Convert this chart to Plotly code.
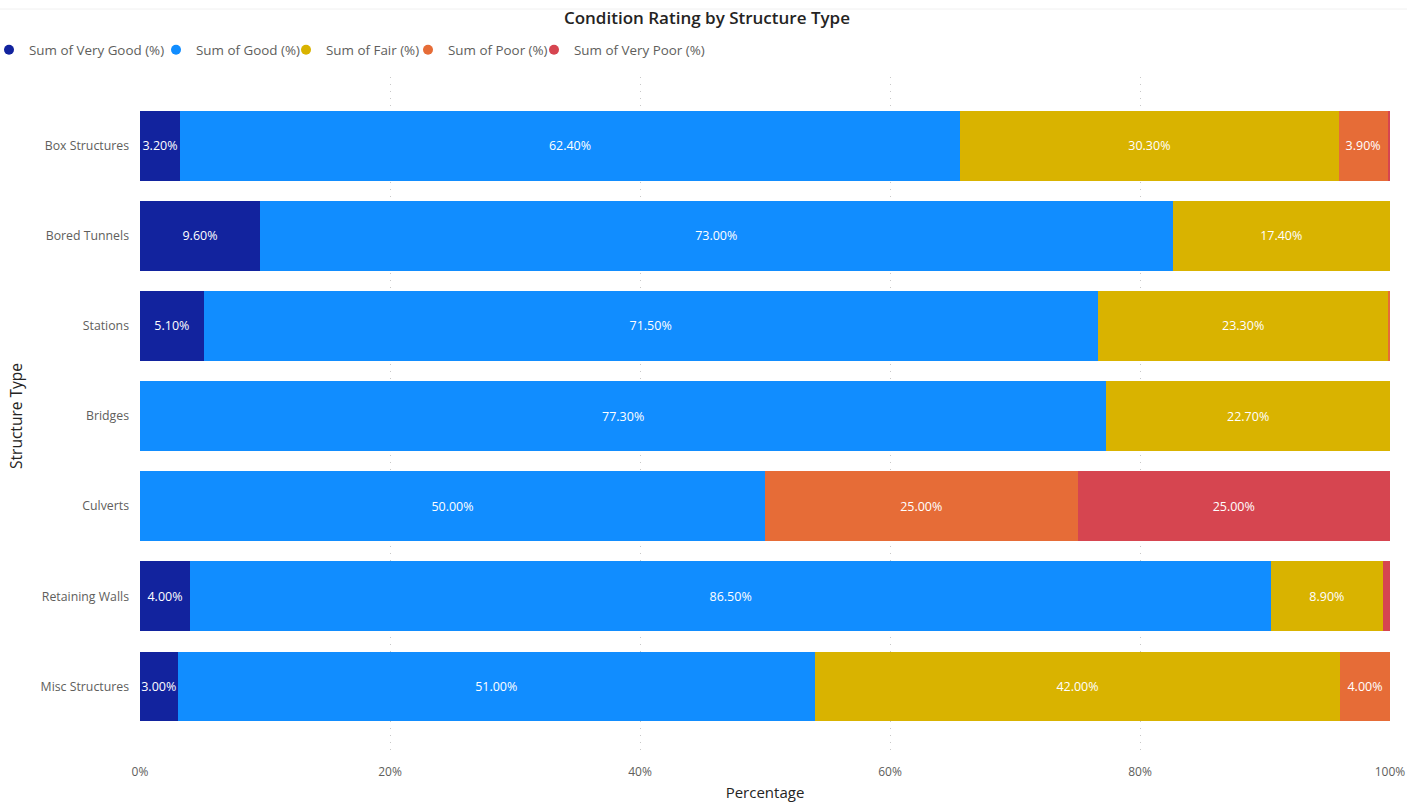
import plotly.graph_objects as go

categories = ["Box Structures", "Bored Tunnels", "Stations", "Bridges",
              "Culverts", "Retaining Walls", "Misc Structures"]
very_good = [3.2, 9.6, 5.1, 0.0, 0.0, 4.0, 3.0]
good = [62.4, 73.0, 71.5, 77.3, 50.0, 86.5, 51.0]
fair = [30.3, 17.4, 23.3, 22.7, 0.0, 8.9, 42.0]
poor = [3.9, 0.0, 0.1, 0.0, 25.0, 0.0, 4.0]
very_poor = [0.2, 0.0, 0.0, 0.0, 25.0, 0.6, 0.0]

series = [
    ("Sum of Very Good (%)", very_good, "#12239E"),
    ("Sum of Good (%)", good, "#118DFF"),
    ("Sum of Fair (%)", fair, "#D9B300"),
    ("Sum of Poor (%)", poor, "#E66C37"),
    ("Sum of Very Poor (%)", very_poor, "#D64550"),
]
# left pixel position of each legend box (one legend per series)
legend_left_px = [-11, 156, 286, 408, 534]

FONT = "Segoe UI, Open Sans, sans-serif"
W, H = 1421, 802
ML, MR, MT, MB = 140, 31, 77, 47
PW = W - ML - MR
fig = go.Figure()
legend_layouts = {}
for i, (name, vals, color) in enumerate(series):
    fig.add_trace(go.Bar(
        y=categories, x=vals, orientation="h", name=name,
        marker=dict(color=color, line=dict(width=0)),
        text=[f"{v:.2f}%" if v >= 3 else "" for v in vals],
        textposition="inside", insidetextanchor="middle", textangle=0,
        textfont=dict(color="white", size=12.5, family=FONT),
        showlegend=False, hoverinfo="x+y+name",
    ))
    lg = "legend" if i == 0 else f"legend{i + 1}"
    fig.add_trace(go.Scatter(
        x=[None], y=[None], mode="markers", name=name, legend=lg,
        marker=dict(color=color, size=10, symbol="circle"),
        showlegend=True,
    ))
    legend_layouts[lg] = dict(
        orientation="h", x=(legend_left_px[i] - ML) / PW, xref="paper", xanchor="left",
        y=1 - 50 / H, yref="container", yanchor="middle",
        font=dict(size=13.4, color="#605E5C", family=FONT),
        itemwidth=30, bgcolor="rgba(0,0,0,0)")

fig.update_layout(
    width=W, height=H,
    barmode="stack", bargap=0.224,
    plot_bgcolor="white", paper_bgcolor="white",
    margin=dict(l=ML, r=MR, t=MT, b=MB, autoexpand=False),
    font=dict(family=FONT, color="#605E5C", size=12),
    uniformtext=dict(minsize=12.5, mode="show"),
    title=dict(text="Condition Rating by Structure Type", x=0.4975, xanchor="center",
               y=1 - 18 / H, yanchor="middle", yref="container",
               font=dict(size=17, color="#252423", family=FONT, weight=600)),
    xaxis=dict(range=[0, 100], tickvals=[0, 20, 40, 60, 80, 100],
               ticktext=["0%", "20%", "40%", "60%", "80%", "100%"],
               showgrid=True, gridcolor="#C8C8C8", griddash="1px,6px", gridwidth=1,
               zeroline=False, showline=False, ticks="", ticklabelstandoff=8,
               tickfont=dict(size=12, color="#605E5C"),
               title=dict(text="Percentage", standoff=8,
                          font=dict(size=15, color="#252423"))),
    yaxis=dict(categoryorder="array", categoryarray=categories,
               range=[6.76, -0.76], showgrid=False, zeroline=False,
               ticks="", ticklabelstandoff=10,
               tickfont=dict(size=12.3, color="#605E5C"),
               title=dict(text="Structure Type", standoff=14,
                          font=dict(size=15.5, color="#252423"))),
    shapes=[dict(type="line", xref="paper", yref="paper",
                 x0=-ML / PW, x1=(1407 - ML) / PW,
                 y0=1 + (MT - 9) / (H - MT - MB), y1=1 + (MT - 9) / (H - MT - MB),
                 line=dict(color="#F0F0F0", width=1))],
    **legend_layouts,
)

fig.write_html("out.html")
